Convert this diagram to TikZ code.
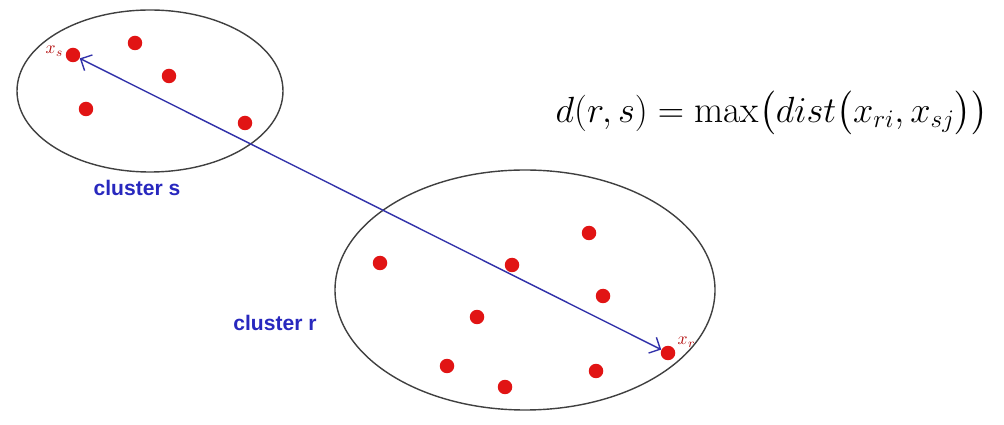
\documentclass[tikz,border=0pt]{standalone}
\usepackage{fontspec}
\setsansfont{Liberation Sans}
\usepackage{amsmath}
\usetikzlibrary{arrows.meta, positioning}
\definecolor{ptred}{RGB}{225, 20, 20}
\definecolor{lblblue}{RGB}{40, 40, 190}
\definecolor{linkblue}{RGB}{50, 50, 170}

\begin{document}
\begin{tikzpicture}[
  x=0.02cm, y=-0.02cm,
  pt/.style={circle, fill=ptred, inner sep=0pt, minimum size=0.29cm},
  clus/.style={draw=black!75, thick},
  clab/.style={font=\sffamily\bfseries\fontsize{12}{14}\selectfont, text=lblblue},
  plab/.style={font=\normalsize, text=ptred!80!black, inner sep=1pt},
  link/.style={{Straight Barb[length=5pt,width=10pt]}-{Straight Barb[length=5pt,width=10pt]}, linkblue, thick}
]
  \useasboundingbox (0,0) rectangle (1004,425);

  % the two clusters
  \draw[clus] (150,91)  ellipse [x radius=133, y radius=81];
  \draw[clus] (525,290) ellipse [x radius=190, y radius=120];

  % points of cluster s
  \node[pt] (xs) at (73,55)  {};
  \node[pt] (s2) at (135,43) {};
  \node[pt] (s3) at (169,76) {};
  \node[pt] (s4) at (86,109) {};
  \node[pt] (s5) at (245,123) {};

  % points of cluster r
  \node[pt] (r1) at (380,263) {};
  \node[pt] (r2) at (512,265) {};
  \node[pt] (r3) at (589,233) {};
  \node[pt] (r4) at (603,296) {};
  \node[pt] (r5) at (477,317) {};
  \node[pt] (r6) at (447,366) {};
  \node[pt] (r7) at (505,387) {};
  \node[pt] (r8) at (596,371) {};
  \node[pt] (xr) at (668,353) {};

  \node[plab, left=0pt of xs, yshift=2pt] (xsl) {$x_s$};
  \node[plab, right=0pt of xr, yshift=6pt] (xrl) {$x_r$};

  \node[clab] (cs) at (137,188) {cluster s};
  \node[clab] (cr) at (275,323) {cluster r};

  % complete linkage
  \draw[link] (xs) -- (xr);

  \node[font=\fontsize{21.5}{26}\selectfont] (fml) at (772,113)
    {$d(r,s)=\max\bigl(dist\bigl(x_{ri},x_{sj}\bigr)\bigr)$};
\end{tikzpicture}
\end{document}
